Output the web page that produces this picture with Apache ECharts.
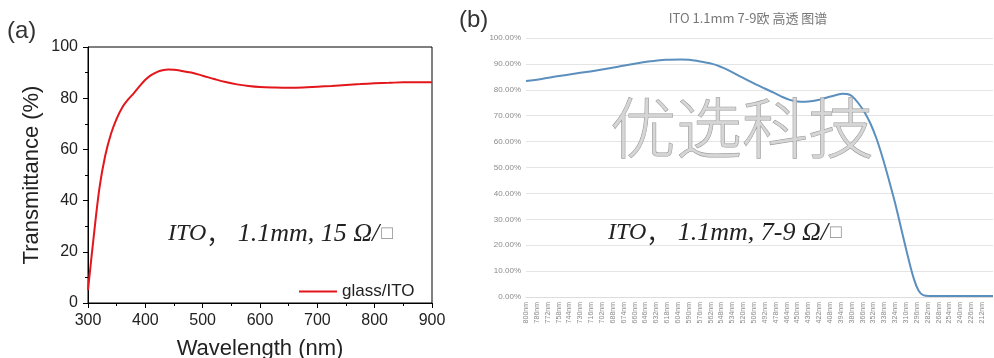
<!DOCTYPE html>
<html>
<head>
<meta charset="utf-8">
<script src="https://cdn.jsdelivr.net/npm/echarts@6/dist/echarts.min.js"></script>
<style>
  html, body { margin: 0; padding: 0; background: #fff; }
  #chart { width: 994px; height: 358px; }
</style>
</head>
<body>
<div id="chart"></div>
<script>
// (a) measured spectrum of glass/ITO, 300-900 nm
const wavelengthA = [300,310,320,330,340,350,360,370,380,390,400,410,420,430,440,450,460,480,500,520,540,560,580,600,625,650,675,700,725,750,775,800,825,850,875,900];
const transA = [5,26,45,57.5,66,72,76.5,79.5,82,84.7,87.2,89.0,90.2,90.9,91.2,91.1,90.8,90,88.8,87.5,86.3,85.4,84.8,84.4,84.2,84.1,84.2,84.5,84.8,85.2,85.5,85.8,86,86.2,86.2,86.2];

// (b) vendor spectrum, wavelength axis running from 800 nm downwards
const wavelengthB = [800,780,760,740,720,700,680,660,640,620,600,590,580,570,560,550,540,520,500,480,470,460,450,440,430,420,410,400,392,386,380,372,364,356,348,340,332,324,316,308,300,294,288,280,260,240,220,198];
const transB = [83.4,84.2,85.2,86.1,87.0,87.9,89.0,90.1,91.0,91.6,91.7,91.6,91.2,90.6,90.0,89.0,87.7,84.6,81.6,78.8,77.3,76.1,75.5,75.4,75.7,76.3,77.2,78.0,78.5,78.4,77.6,75.0,71.5,67.0,61.0,53.5,45.0,36.0,26.0,16.0,7.0,2.5,0.7,0.4,0.4,0.4,0.4,0.4];

// tick settings
const ticksA_x = { min: 300, max: 900, step: 100 };
const ticksA_y = { min: 0, max: 100, step: 20 };
const ticksB_x = { min: 198, max: 800, step: 14 };
const ticksB_y = { min: 0, max: 100, step: 10 };

const seriesNameA = 'glass/ITO';
const titleB = 'ITO 1.1mm 7-9欧 高透 图谱';
const watermark = '优选科技';
const noteA = ['ITO', '，', ' 1.1mm, 15 Ω/', '□'];
const noteB = ['ITO', '，', ' 1.1mm, 7-9 Ω/', '□'];

const pairs = (xs, ys) => xs.map((x, i) => [x, ys[i]]);

const chart = echarts.init(document.getElementById('chart'), null, { renderer: 'canvas' });

const sansFont = 'Liberation Sans, Arial, sans-serif';
const cjkFont = 'Noto Sans CJK SC, sans-serif';

const noteRich = {
  a: { font: 'italic 24px Liberation Serif, Times New Roman, serif', fill: '#222' },
  b: { font: 'italic 26px Liberation Serif, Times New Roman, serif', fill: '#222' },
  c: { font: '24px Noto Sans CJK SC, sans-serif', fill: '#222', width: 25 },
  s: { font: '19px ' + sansFont, fill: '#8c8c8c', padding: [0, 0, 0, 2] }
};
const noteText = parts => `{a|${parts[0]}}{c|${parts[1]}}{b|${parts[2]}}{s|${parts[3]}}`;

chart.setOption({
  animation: false,
  backgroundColor: '#ffffff',
  grid: [
    { left: 88, right: 562, top: 47, bottom: 55, outerBoundsMode: 'none', containLabel: false,
      show: true, borderColor: '#000', borderWidth: 1, backgroundColor: 'transparent' },
    { left: 526, right: 1, top: 38, bottom: 61, outerBoundsMode: 'none', containLabel: false }
  ],
  legend: {
    data: [seriesNameA],
    left: 294, top: 278,
    icon: 'rect', itemWidth: 38, itemHeight: 2, itemGap: 4,
    textStyle: { fontFamily: sansFont, fontSize: 17, color: '#222' }
  },
  xAxis: [
    {
      gridIndex: 0, type: 'value', min: ticksA_x.min, max: ticksA_x.max, interval: ticksA_x.step,
      axisLine: { show: true, lineStyle: { color: '#000', width: 1 } },
      axisTick: { show: true, length: 5, inside: false, lineStyle: { color: '#000' } },
      minorTick: { show: true, splitNumber: 2, length: 3, lineStyle: { color: '#000' } },
      axisLabel: { fontFamily: sansFont, fontSize: 16, color: '#222', margin: 10 },
      splitLine: { show: false },
      name: 'Wavelength (nm)', nameLocation: 'middle', nameGap: 35,
      nameTextStyle: { fontFamily: sansFont, fontSize: 22, color: '#222' }
    },
    {
      gridIndex: 1, type: 'value', inverse: true,
      min: ticksB_x.min, max: ticksB_x.max, interval: ticksB_x.step,
      axisLine: { show: true, lineStyle: { color: '#dcdcdc', width: 1 } },
      axisTick: { show: false },
      axisLabel: {
        rotate: 90, fontFamily: sansFont, fontSize: 7, color: '#8a8a8a', margin: 5,
        formatter: v => (v < 205 ? '' : v + 'nm')
      },
      splitLine: { show: false }
    }
  ],
  yAxis: [
    {
      gridIndex: 0, type: 'value', min: ticksA_y.min, max: ticksA_y.max, interval: ticksA_y.step,
      axisLine: { show: true, lineStyle: { color: '#000', width: 1 } },
      axisTick: { show: true, length: 5, lineStyle: { color: '#000' } },
      minorTick: { show: true, splitNumber: 2, length: 3, lineStyle: { color: '#000' } },
      axisLabel: { fontFamily: sansFont, fontSize: 16, color: '#222', margin: 10 },
      splitLine: { show: false },
      name: 'Transmittance (%)', nameLocation: 'middle', nameGap: 45,
      nameTextStyle: { fontFamily: sansFont, fontSize: 22, color: '#222' }
    },
    {
      gridIndex: 1, type: 'value', min: ticksB_y.min, max: ticksB_y.max, interval: ticksB_y.step,
      axisLine: { show: false },
      axisTick: { show: false },
      axisLabel: {
        fontFamily: sansFont, fontSize: 8, color: '#8a8a8a', margin: 5,
        formatter: v => v.toFixed(2) + '%'
      },
      splitLine: { show: true, lineStyle: { color: '#e4e4e4', width: 1 } }
    }
  ],
  series: [
    {
      name: seriesNameA, type: 'line', xAxisIndex: 0, yAxisIndex: 0,
      data: pairs(wavelengthA, transA), smooth: 0.35, showSymbol: false,
      lineStyle: { color: '#e3161c', width: 2 }, itemStyle: { color: '#e3161c' }
    },
    {
      name: 'ITO 7-9', type: 'line', xAxisIndex: 1, yAxisIndex: 1,
      data: pairs(wavelengthB, transB), smooth: 0.35, showSymbol: false,
      lineStyle: { color: '#5b8fbe', width: 2 }, itemStyle: { color: '#5b8fbe' }
    }
  ],
  graphic: [
    { type: 'text', left: 7, top: 19, style: { text: '(a)', font: '24px ' + sansFont, fill: '#333' } },
    { type: 'text', left: 459, top: 8, style: { text: '(b)', font: '24px ' + sansFont, fill: '#333' } },
    {
      type: 'text', x: 748, y: 18,
      style: { text: titleB, font: '13px ' + cjkFont, fill: '#777', textAlign: 'center', textVerticalAlign: 'middle' }
    },
    {
      type: 'text', x: 742, y: 128, z: 100,
      style: {
        text: watermark, font: '300 66px ' + cjkFont, fill: 'rgba(210,210,210,0.92)',
        stroke: '#979797', lineWidth: 1, textAlign: 'center', textVerticalAlign: 'middle',
        shadowColor: 'rgba(0,0,0,0.25)', shadowBlur: 2, shadowOffsetX: 1, shadowOffsetY: 1
      }
    },
    {
      type: 'text', x: 168, y: 234, z: 100,
      style: { text: noteText(noteA), textVerticalAlign: 'middle', rich: noteRich }
    },
    {
      type: 'text', x: 608, y: 233, z: 100,
      style: { text: noteText(noteB), textVerticalAlign: 'middle', rich: noteRich }
    }
  ]
});
</script>
</body>
</html>
